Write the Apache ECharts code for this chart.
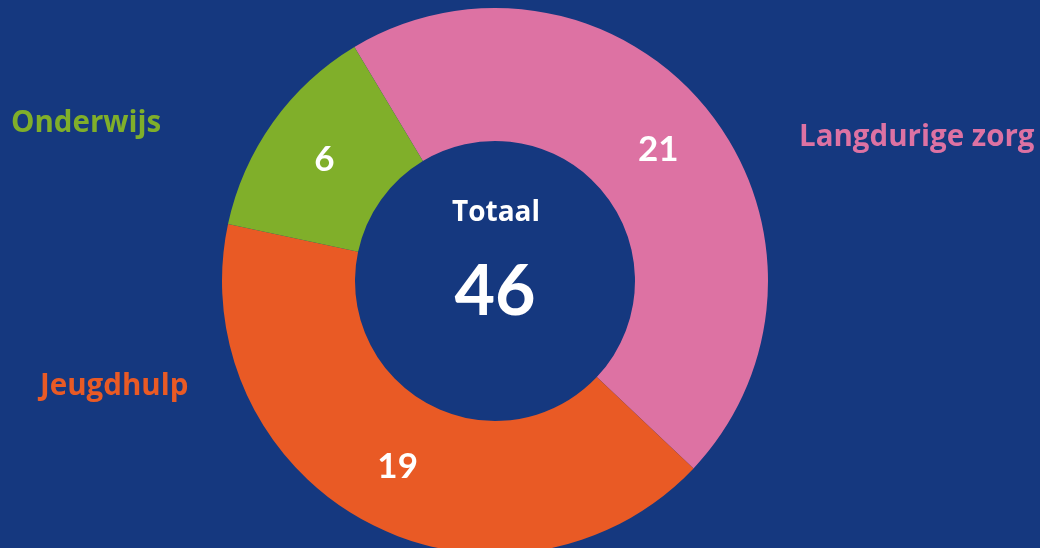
<!DOCTYPE html>
<html>
<head>
<meta charset="utf-8">
<script src="https://cdn.jsdelivr.net/npm/echarts@6/dist/echarts.min.js"></script>
<style>
  html, body { margin: 0; padding: 0; background: #15387f; }
  #diagram { width: 1040px; height: 548px; }
</style>
</head>
<body>
<div id="diagram"></div>
<script>
var categories = ["Langdurige zorg", "Jeugdhulp", "Onderwijs"];
var values = [21, 19, 6];
var colors = ["#dd72a3", "#e95a25", "#80af2a"];
var totalLabel = "Totaal";

// where the category names sit (left x, middle y)
var namePos = [[799, 138], [40, 387], [11, 124]];

var total = values.reduce(function (a, b) { return a + b; }, 0);
var numFont = "Lato, 'Open Sans', sans-serif";
var textFont = "'Open Sans', Lato, sans-serif";

var myChart = echarts.init(document.getElementById("diagram"));

var pieData = categories.map(function (name, i) {
  return { name: name, value: values[i], itemStyle: { color: colors[i] } };
});

var nameTexts = categories.map(function (name, i) {
  return {
    type: "text",
    x: namePos[i][0],
    y: namePos[i][1],
    style: {
      text: name,
      fill: colors[i],
      font: "bold 29.5px " + textFont,
      verticalAlign: "middle"
    }
  };
});

var option = {
  backgroundColor: "#15387f",
  animation: false,
  series: [
    {
      type: "pie",
      center: [495, 281],
      radius: [140, 273],
      startAngle: 121,
      clockwise: true,
      data: pieData,
      label: {
        show: true,
        position: "inside",
        formatter: "{c}",
        color: "#ffffff",
        fontFamily: numFont,
        fontWeight: "bold",
        fontSize: 35
      },
      labelLine: { show: false },
      emphasis: { disabled: true }
    }
  ],
  graphic: nameTexts.concat([
    {
      type: "text",
      x: 496,
      y: 213,
      style: {
        text: totalLabel,
        fill: "#ffffff",
        font: "bold 28px " + textFont,
        align: "center",
        verticalAlign: "middle"
      }
    },
    {
      type: "text",
      x: 495,
      y: 292,
      style: {
        text: String(total),
        fill: "#ffffff",
        font: "bold 70px " + numFont,
        align: "center",
        verticalAlign: "middle"
      }
    }
  ])
};
myChart.setOption(option);
</script>
</body>
</html>
